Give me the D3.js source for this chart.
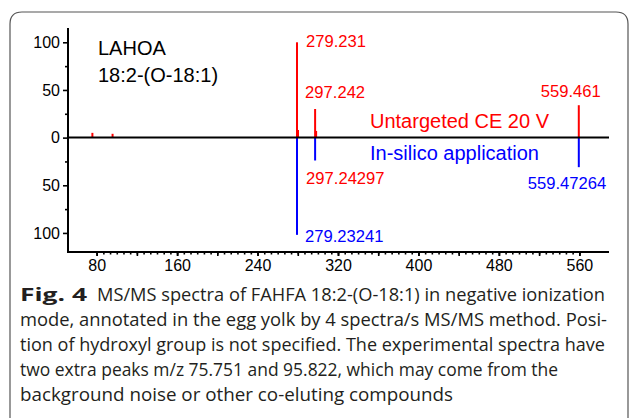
<!DOCTYPE html>
<html>
<head>
<meta charset="utf-8">
<script src="https://cdn.jsdelivr.net/npm/d3@7"></script>
<style>
  body { margin: 0; background: #fff; }
  svg { display: block; }
</style>
</head>
<body>
<div id="chart"></div>
<script>
// experimental spectrum (up, red)
var expMz = [75.751, 95.822, 279.231, 280.234, 297.242, 298.245, 559.461];
var expInt = [5, 4, 100, 8, 30, 7, 34];
// in-silico spectrum (down, blue)
var silMz = [279.23241, 297.24297, 559.47264];
var silInt = [102, 24, 31];

var xMajor = [80, 160, 240, 320, 400, 480, 560];
var yMajor = [100, 50, 0, -50, -100];
var yMinor = [75, 25, -25, -75];

var titleLines = ["LAHOA", "18:2-(O-18:1)"];
var seriesNames = ["Untargeted CE 20 V", "In-silico application"];
var captionLines = [
  "MS/MS spectra of FAHFA 18:2-(O-18:1) in negative ionization",
  "mode, annotated in the egg yolk by 4 spectra/s MS/MS method. Posi-",
  "tion of hydroxyl group is not specified. The experimental spectra have",
  "two extra peaks m/z 75.751 and 95.822, which may come from the",
  "background noise or other co-eluting compounds"
];

var W = 629, H = 418;
var RED = "#ff0000", BLUE = "#0000ff";
var font = "'Liberation Sans', Arial, sans-serif";

var svg = d3.select("#chart").append("svg")
    .attr("width", W)
    .attr("height", H);

// rounded frame
svg.append("path")
    .attr("d", "M10,420 L10,24 Q10,12 22,12 L616,12 Q628,12 628,24 L628,420")
    .attr("fill", "none")
    .attr("stroke", "#555")
    .attr("stroke-width", 1.2);

var x = d3.scaleLinear().domain([51.5, 589.5]).range([68, 609]);
var y = d3.scaleLinear().domain([-120, 115]).range([252, 28]);

// minor x ticks every 40/6
var xMinor = d3.range(0, 73).map(function (i) { return 80 + i * 40 / 6; })
    .filter(function (v) { return v <= 560.01; });
var x40 = d3.range(80, 561, 40);

var g = svg.append("g");

// peaks
g.selectAll(".exp")
    .data(expMz)
    .enter().append("line")
    .attr("x1", function (d) { return x(d); })
    .attr("x2", function (d) { return x(d); })
    .attr("y1", y(0))
    .attr("y2", function (d, i) { return y(expInt[i]); })
    .attr("stroke", RED)
    .attr("stroke-width", 2);

g.selectAll(".sil")
    .data(silMz)
    .enter().append("line")
    .attr("x1", function (d) { return x(d); })
    .attr("x2", function (d) { return x(d); })
    .attr("y1", y(0))
    .attr("y2", function (d, i) { return y(-silInt[i]); })
    .attr("stroke", BLUE)
    .attr("stroke-width", 2);

// baseline
g.append("line")
    .attr("x1", x.range()[0]).attr("x2", x.range()[1])
    .attr("y1", y(0)).attr("y2", y(0))
    .attr("stroke", "#000").attr("stroke-width", 2);

// axes
var yAxis = d3.axisLeft(y).tickValues(yMajor).tickSize(5).tickPadding(3)
    .tickFormat(function (d) { return Math.abs(d); });
var yAx = svg.append("g").attr("transform", "translate(" + x.range()[0] + ",0)").call(yAxis);
svg.append("g").attr("transform", "translate(" + x.range()[0] + ",0)")
    .call(d3.axisLeft(y).tickValues(yMinor).tickSize(3).tickFormat(""))
    .select(".domain").remove();

var xAxis = d3.axisBottom(x).tickValues(xMajor).tickSize(4).tickPadding(4);
var xAx = svg.append("g").attr("transform", "translate(0," + y.range()[0] + ")").call(xAxis);
svg.append("g").attr("transform", "translate(0," + y.range()[0] + ")")
    .call(d3.axisBottom(x).tickValues(x40).tickSize(4).tickFormat(""))
    .select(".domain").remove();
svg.append("g").attr("transform", "translate(0," + y.range()[0] + ")")
    .call(d3.axisBottom(x).tickValues(xMinor).tickSize(2.5).tickFormat(""))
    .select(".domain").remove();

svg.selectAll(".domain").attr("stroke", "#000").attr("stroke-width", 2);
svg.selectAll(".tick line").attr("stroke", "#000").attr("stroke-width", 1.6);
[yAx, xAx].forEach(function (a) {
  a.selectAll("text").attr("font-family", font).attr("font-size", 16).attr("fill", "#000");
});
// square off the axis corner
yAx.select(".domain").attr("d", "M0," + y.range()[1] + "V" + (y.range()[0] + 1));
xAx.select(".domain").attr("d", "M" + (x.range()[0] - 1) + ",0H" + x.range()[1]);

// compound name
svg.selectAll(".title")
    .data(titleLines)
    .enter().append("text")
    .attr("x", 98)
    .attr("y", function (d, i) { return 55 + i * 27; })
    .attr("font-family", font)
    .attr("font-size", 20)
    .attr("fill", "#000")
    .text(function (d) { return d; });

// peak labels
function lbl(txt, px, py, col) {
  svg.append("text")
      .attr("x", px).attr("y", py)
      .attr("font-family", font)
      .attr("font-size", 16.6)
      .attr("fill", col)
      .text(txt);
}
lbl(expMz[2].toFixed(3), x(expMz[2]) + 9, y(expInt[2]) + 5, RED);
lbl(expMz[4].toFixed(3), x(expMz[4]) - 10, y(expInt[4]) - 11, RED);
lbl(expMz[6].toFixed(3), x(expMz[6]) - 38, y(expInt[6]) - 8, RED);
lbl(silMz[1].toFixed(5), x(silMz[1]) - 9, y(-silInt[1]) + 24, RED);
lbl(silMz[0].toFixed(5), x(silMz[0]) + 8, y(-silInt[0]) + 7, BLUE);
lbl(silMz[2].toFixed(5), x(silMz[2]) - 51, y(-silInt[2]) + 22, BLUE);

// series names
svg.selectAll(".sname")
    .data(seriesNames)
    .enter().append("text")
    .attr("x", 370)
    .attr("y", function (d, i) { return i === 0 ? 128 : 160; })
    .attr("font-family", font)
    .attr("font-size", 20)
    .attr("fill", function (d, i) { return i === 0 ? RED : BLUE; })
    .text(function (d) { return d; });

// caption
var capFont = "'Open Sans', 'Noto Sans', sans-serif";
var capW = [508, 587, 585, 538, 433];
svg.append("text")
    .attr("x", 20).attr("y", 301)
    .attr("font-family", capFont).attr("font-size", 18.5)
    .attr("font-weight", "bold").attr("fill", "#231f20")
    .attr("textLength", 67).attr("lengthAdjust", "spacingAndGlyphs")
    .text("Fig. 4");
svg.selectAll(".cap")
    .data(captionLines)
    .enter().append("text")
    .attr("x", function (d, i) { return i === 0 ? 97 : 20; })
    .attr("y", function (d, i) { return 301 + i * 25; })
    .attr("font-family", capFont)
    .attr("font-size", 18.5)
    .attr("fill", "#231f20")
    .attr("textLength", function (d, i) { return capW[i]; })
    .attr("lengthAdjust", "spacingAndGlyphs")
    .text(function (d) { return d; });
</script>
</body>
</html>
